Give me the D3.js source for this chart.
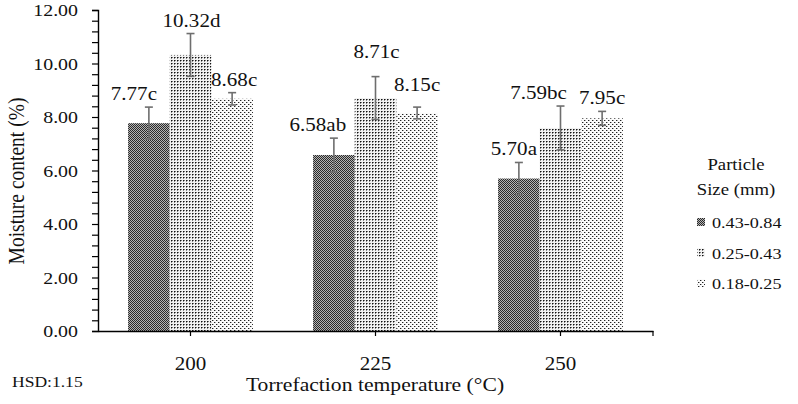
<!DOCTYPE html>
<html>
<head>
<meta charset="utf-8">
<script src="https://cdn.jsdelivr.net/npm/d3@7"></script>
<style>
  html, body { margin: 0; padding: 0; background: #fff; }
  text { font-family: "Liberation Serif", "Times New Roman", serif; fill: #111; }
</style>
</head>
<body>
<svg id="chart" width="798" height="404"></svg>
<script>
// ---- data ----
const categories = ["200", "225", "250"];
const seriesNames = ["0.43-0.84", "0.25-0.43", "0.18-0.25"];
const values = [
  [7.77, 10.32, 8.68],
  [6.58, 8.71, 8.15],
  [5.70, 7.59, 7.95]
];
const errors = [
  [0.60, 0.80, 0.23],
  [0.63, 0.80, 0.22],
  [0.60, 0.82, 0.26]
];
const letters = [
  ["c", "d", "c"],
  ["ab", "c", "c"],
  ["a", "bc", "c"]
];
const yTicks = [0, 2, 4, 6, 8, 10, 12];
const hsdText = "HSD:1.15";

// ---- layout (manual label nudges as in the original) ----
const labelDx = [[-15, 1, 2], [-16, 1, 0], [-5, -22, 0]];
const labelDy = [[0, 0, 0], [0, -12, -9], [0, 0, 0]];
const SX = 1.17; // horizontal stretch of the original's text

const svg = d3.select("#chart");
const plotL = 98, plotR = 653, plotT = 10, plotB = 331;

const y = d3.scaleLinear().domain([0, 12]).range([plotB, plotT]);
const x0 = d3.scaleBand().domain(categories).range([plotL, plotR]).padding(0);
const groupW = x0.bandwidth() * 0.675;
const x1 = d3.scaleBand().domain(d3.range(seriesNames.length)).range([0, groupW]).padding(0);
const gOff = (x0.bandwidth() - groupW) / 2;

// ---- patterns ----
const defs = svg.append("defs");
function pat(id, w, h, bg, cells) {
  const p = defs.append("pattern").attr("id", id).attr("patternUnits", "userSpaceOnUse")
    .attr("width", w).attr("height", h);
  p.append("rect").attr("width", w).attr("height", h).attr("fill", bg);
  cells.forEach(c => p.append("rect").attr("x", c[0]).attr("y", c[1])
    .attr("width", c[2] || 1).attr("height", c[3] || 1).attr("fill", c[4] || "#000"));
}
pat("p0", 2, 2, "#b4b4b4", [[0, 0, 1, 1, "#2a2a2a"], [1, 1, 1, 1, "#2a2a2a"]]);
pat("p1", 3, 3, "#f2f2f2", [[0, 0, 1, 1, "#111"], [1, 0, 1, 1, "#777"], [0, 1, 1, 1, "#888"]]);
pat("p2", 4, 4, "#fbfbfb", [[0, 0, 1, 1, "#222"], [2, 2, 1, 1, "#222"], [1, 0, 1, 1, "#aaa"], [3, 2, 1, 1, "#aaa"]]);
const fills = ["url(#p0)", "url(#p1)", "url(#p2)"];

function stext(g, x, yy, str, size, anchor) {
  const t = g.append("g").attr("transform", `translate(${x},${yy}) scale(${SX},1)`)
    .append("text").attr("font-size", size).attr("text-anchor", anchor || "middle").text(str);
  return t;
}

// ---- bars ----
const gBars = svg.append("g");
categories.forEach((c, ci) => {
  values[ci].forEach((v, si) => {
    const bx = x0(c) + gOff + x1(si);
    gBars.append("rect")
      .attr("x", bx).attr("y", y(v))
      .attr("width", x1.bandwidth()).attr("height", y(0) - y(v))
      .attr("fill", fills[si]);
  });
});

// ---- error bars ----
const gErr = svg.append("g").attr("stroke", "#6e6e6e").attr("stroke-width", 1.6).attr("fill", "none");
categories.forEach((c, ci) => {
  values[ci].forEach((v, si) => {
    const cx = x0(c) + gOff + x1(si) + x1.bandwidth() / 2;
    const e = errors[ci][si];
    const yt = y(v + e), yb = y(v - e);
    gErr.append("line").attr("x1", cx).attr("x2", cx).attr("y1", yt).attr("y2", yb);
    gErr.append("line").attr("x1", cx - 4).attr("x2", cx + 4).attr("y1", yt).attr("y2", yt);
    gErr.append("line").attr("x1", cx - 4).attr("x2", cx + 4).attr("y1", yb).attr("y2", yb);
  });
});

// ---- value labels ----
const gLab = svg.append("g");
categories.forEach((c, ci) => {
  values[ci].forEach((v, si) => {
    const cx = x0(c) + gOff + x1(si) + x1.bandwidth() / 2 + labelDx[ci][si];
    const yt = y(v + errors[ci][si]) - 7 + labelDy[ci][si];
    stext(gLab, cx, yt, v.toFixed(2) + letters[ci][si], 18);
  });
});

// ---- axes ----
const yAxis = d3.axisLeft(y).tickValues(d3.range(0, 12.0001, 0.4)).tickSize(6)
  .tickFormat(d => "");
const gy = svg.append("g").attr("transform", `translate(${plotL},0)`).call(yAxis);
gy.select(".domain").attr("stroke", "#000").attr("stroke-width", 1.4);
gy.selectAll(".tick line").attr("stroke", "#000").attr("stroke-width", 1.2);
const gyl = svg.append("g");
yTicks.forEach(t => stext(gyl, 78, y(t) + 6, t.toFixed(2), 17, "end"));

const xAxis = d3.axisBottom(x0).tickSize(5).tickSizeOuter(0).tickFormat("");
const gx = svg.append("g").attr("transform", `translate(0,${plotB})`).call(xAxis);
gx.select(".domain").attr("stroke", "#000").attr("stroke-width", 1.6);
gx.selectAll(".tick line").attr("stroke", "#000").attr("stroke-width", 1.2);
gx.append("line").attr("x1", plotR).attr("x2", plotR).attr("y1", 0).attr("y2", 5)
  .attr("stroke", "#000").attr("stroke-width", 1.2);
const gxl = svg.append("g");
categories.forEach(c => stext(gxl, x0(c) + x0.bandwidth() / 2, 370, c, 18));

// ---- titles ----
stext(svg, 375, 391, "Torrefaction temperature (°C)", 18.5);
svg.append("g").attr("transform", `translate(24,181) rotate(-90) scale(1,${SX})`)
  .append("text").attr("font-size", 19.5).attr("text-anchor", "middle").text("Moisture content (%)");
stext(svg, 12, 387, hsdText, 15, "start");

// ---- legend ----
const gLeg = svg.append("g");
stext(gLeg, 736, 170, "Particle", 16);
stext(gLeg, 736, 195, "Size (mm)", 16);
seriesNames.forEach((s, i) => {
  const yy = 228 + i * 30.5;
  gLeg.append("rect").attr("x", 697).attr("y", yy - 10).attr("width", 8).attr("height", 8).attr("fill", fills[i]);
  stext(gLeg, 712, yy, s, 15.5, "start");
});
</script>
</body>
</html>
